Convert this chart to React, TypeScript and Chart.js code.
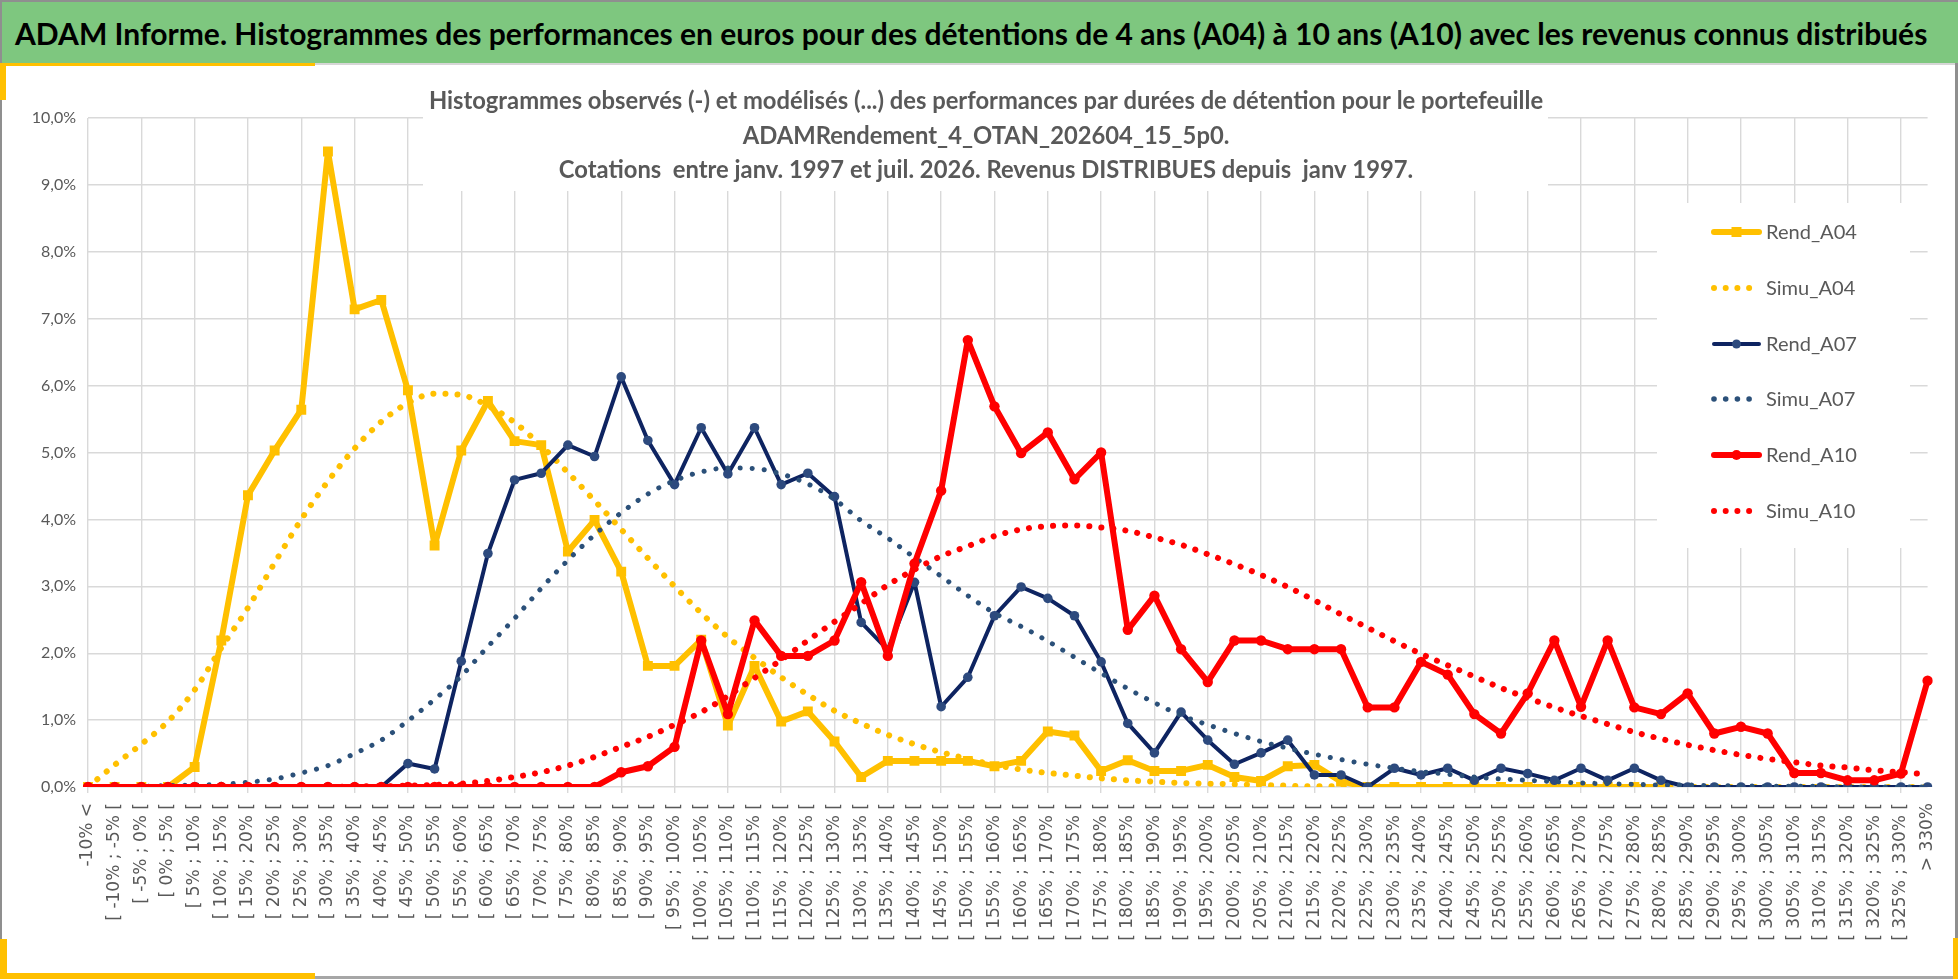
import React, { useEffect, useRef } from "react";
import { Chart, registerables } from "chart.js";

Chart.register(...registerables);

// ---------- data ----------
const categories: string[] = [
  "-10% <",
  "[ -10% ; -5% [", "[ -5% ; 0% [", "[ 0% ; 5% [", "[ 5% ; 10% [",
  "[ 10% ; 15% [", "[ 15% ; 20% [", "[ 20% ; 25% [", "[ 25% ; 30% [",
  "[ 30% ; 35% [", "[ 35% ; 40% [", "[ 40% ; 45% [", "[ 45% ; 50% [",
  "[ 50% ; 55% [", "[ 55% ; 60% [", "[ 60% ; 65% [", "[ 65% ; 70% [",
  "[ 70% ; 75% [", "[ 75% ; 80% [", "[ 80% ; 85% [", "[ 85% ; 90% [",
  "[ 90% ; 95% [", "[ 95% ; 100% [", "[ 100% ; 105% [", "[ 105% ; 110% [",
  "[ 110% ; 115% [", "[ 115% ; 120% [", "[ 120% ; 125% [", "[ 125% ; 130% [",
  "[ 130% ; 135% [", "[ 135% ; 140% [", "[ 140% ; 145% [", "[ 145% ; 150% [",
  "[ 150% ; 155% [", "[ 155% ; 160% [", "[ 160% ; 165% [", "[ 165% ; 170% [",
  "[ 170% ; 175% [", "[ 175% ; 180% [", "[ 180% ; 185% [", "[ 185% ; 190% [",
  "[ 190% ; 195% [", "[ 195% ; 200% [", "[ 200% ; 205% [", "[ 205% ; 210% [",
  "[ 210% ; 215% [", "[ 215% ; 220% [", "[ 220% ; 225% [", "[ 225% ; 230% [",
  "[ 230% ; 235% [", "[ 235% ; 240% [", "[ 240% ; 245% [", "[ 245% ; 250% [",
  "[ 250% ; 255% [", "[ 255% ; 260% [", "[ 260% ; 265% [", "[ 265% ; 270% [",
  "[ 270% ; 275% [", "[ 275% ; 280% [", "[ 280% ; 285% [", "[ 285% ; 290% [",
  "[ 290% ; 295% [", "[ 295% ; 300% [", "[ 300% ; 305% [", "[ 305% ; 310% [",
  "[ 310% ; 315% [", "[ 315% ; 320% [", "[ 320% ; 325% [", "[ 325% ; 330% [",
  "> 330%",
];

const rendA04: (number | null)[] = [
  0, 0, 0, 0, 0.30, 2.19, 4.36, 5.03, 5.64, 9.50,
  7.14, 7.28, 5.93, 3.61, 5.03, 5.77, 5.17, 5.11, 3.52, 3.99,
  3.22, 1.81, 1.81, 2.20, 0.92, 1.81, 0.98, 1.13, 0.68, 0.15,
  0.39, 0.39, 0.39, 0.39, 0.31, 0.39, 0.83, 0.77, 0.24, 0.40,
  0.24, 0.24, 0.33, 0.15, 0.09, 0.31, 0.33, 0.08, 0, 0,
  0, 0, 0, 0, 0, 0, 0, 0, 0, 0,
  null, null, null, null, null, null, null, null, null, null,
];

const simuA04: number[] = [
  0, 0.33, 0.64, 0.98, 1.45, 2.08, 2.68, 3.35, 4.0, 4.57,
  5.06, 5.46, 5.74, 5.88, 5.86, 5.70, 5.45, 5.10, 4.70, 4.28,
  3.85, 3.42, 3.0, 2.6, 2.24, 1.93, 1.64, 1.38, 1.14, 0.95,
  0.78, 0.64, 0.52, 0.42, 0.33, 0.26, 0.21, 0.17, 0.13, 0.10,
  0.08, 0.06, 0.05, 0.04, 0.03, 0.02, 0.01, 0.01, 0.01, 0,
  0, 0, 0, 0, 0, 0, 0, 0, 0, 0,
  0, 0, 0, 0, 0, 0, 0, 0, 0, 0,
];

const rendA07: number[] = [
  0, 0, 0, 0, 0, 0, 0, 0, 0, 0,
  0, 0, 0.35, 0.27, 1.88, 3.49, 4.59, 4.69, 5.11, 4.94,
  6.13, 5.18, 4.52, 5.37, 4.68, 5.37, 4.52, 4.69, 4.34, 2.46,
  2.05, 3.06, 1.20, 1.64, 2.56, 2.99, 2.82, 2.56, 1.87, 0.95,
  0.51, 1.12, 0.70, 0.34, 0.51, 0.70, 0.18, 0.18, 0, 0.28,
  0.18, 0.28, 0.10, 0.28, 0.20, 0.10, 0.28, 0.10, 0.28, 0.10,
  0, 0, 0, 0, 0, 0, 0, 0, 0, 0,
];

const simuA07: number[] = [
  0, 0, 0.01, 0.02, 0.03, 0.04, 0.07, 0.12, 0.21, 0.32,
  0.50, 0.70, 0.99, 1.31, 1.66, 2.10, 2.52, 2.97, 3.39, 3.77,
  4.10, 4.38, 4.58, 4.71, 4.77, 4.76, 4.68, 4.53, 4.30, 3.98,
  3.72, 3.43, 3.15, 2.86, 2.60, 2.40, 2.18, 1.94, 1.70, 1.47,
  1.26, 1.07, 0.93, 0.80, 0.68, 0.58, 0.49, 0.41, 0.34, 0.28,
  0.23, 0.19, 0.15, 0.12, 0.10, 0.08, 0.06, 0.05, 0.04, 0.03,
  0.03, 0.02, 0.02, 0.01, 0.01, 0.01, 0, 0, 0, 0,
];

const rendA10: number[] = [
  0, 0, 0, 0, 0, 0, 0, 0, 0, 0,
  0, 0, 0, 0, 0, 0, 0, 0, 0, 0,
  0.22, 0.31, 0.60, 2.19, 1.09, 2.49, 1.96, 1.96, 2.19, 3.06,
  1.96, 3.34, 4.43, 6.68, 5.69, 4.99, 5.30, 4.60, 5.00, 2.35,
  2.86, 2.06, 1.57, 2.19, 2.19, 2.06, 2.06, 2.06, 1.19, 1.19,
  1.87, 1.68, 1.09, 0.80, 1.40, 2.19, 1.20, 2.19, 1.19, 1.09,
  1.40, 0.80, 0.90, 0.80, 0.21, 0.21, 0.10, 0.10, 0.20, 1.59,
];

const simuA10: number[] = [
  0, 0, 0, 0, 0, 0, 0, 0, 0, 0,
  0.01, 0.01, 0.02, 0.03, 0.05, 0.09, 0.15, 0.22, 0.32, 0.45,
  0.60, 0.75, 0.93, 1.12, 1.36, 1.63, 1.90, 2.19, 2.47, 2.74,
  3.02, 3.25, 3.45, 3.60, 3.75, 3.85, 3.90, 3.91, 3.88, 3.83,
  3.73, 3.62, 3.48, 3.33, 3.17, 2.99, 2.79, 2.58, 2.38, 2.18,
  1.99, 1.82, 1.65, 1.48, 1.33, 1.19, 1.06, 0.94, 0.82, 0.72,
  0.63, 0.55, 0.48, 0.42, 0.37, 0.32, 0.29, 0.25, 0.22, 0.19,
];

const headerTitle =
  "ADAM Informe. Histogrammes des performances en euros pour des détentions de 4 ans (A04) à 10 ans (A10) avec les revenus connus distribués";
const chartTitleLines = [
  "Histogrammes observés (-) et modélisés (...) des performances par durées de détention pour le portefeuille",
  "ADAMRendement_4_OTAN_202604_15_5p0.",
  "Cotations  entre janv. 1997 et juil. 2026. Revenus DISTRIBUES depuis  janv 1997.",
];

// ---------- styles ----------
const YELLOW = "#FFC000";
const NAVY = "#0E2461";
const NAVY_MARK = "#2D4A7E";
const NAVY_DOT = "#2B5079";
const RED = "#FF0000";
const TXT = "#595959";
const GRID = "#D9D9D9";
const SANS = "Lato, 'Open Sans', sans-serif";

const W = 1958;
const H = 979;
const HEAD = 63;
const CH = H - HEAD;

function fitSize(text: string, family: string, weight: string, target: number): number {
  const c = document.createElement("canvas").getContext("2d");
  if (!c) return 20;
  c.font = `${weight} 100px ${family}`;
  const w = c.measureText(text).width;
  return (100 * target) / w;
}

type LegendItem = { label: string; color: string; markColor: string; kind: "rect" | "circle" | "dots"; width: number; r: number };
const legendItems: LegendItem[] = [
  { label: "Rend_A04", color: YELLOW, markColor: YELLOW, kind: "rect", width: 6, r: 5 },
  { label: "Simu_A04", color: YELLOW, markColor: YELLOW, kind: "dots", width: 6, r: 3 },
  { label: "Rend_A07", color: NAVY, markColor: NAVY_MARK, kind: "circle", width: 4, r: 4.5 },
  { label: "Simu_A07", color: NAVY_DOT, markColor: NAVY_DOT, kind: "dots", width: 5, r: 2.8 },
  { label: "Rend_A10", color: RED, markColor: RED, kind: "circle", width: 6, r: 5 },
  { label: "Simu_A10", color: RED, markColor: RED, kind: "dots", width: 6, r: 3 },
];

const overlayPlugin = {
  id: "overlay",
  beforeDatasetsDraw(chart: any) {
    const ctx: CanvasRenderingContext2D = chart.ctx;
    ctx.save();
    // title box
    ctx.fillStyle = "#ffffff";
    ctx.fillRect(423, 8, 1125, 120);
    const tSize = fitSize(chartTitleLines[0], SANS, "bold", 1115);
    ctx.font = `bold ${tSize}px ${SANS}`;
    ctx.fillStyle = TXT;
    ctx.textAlign = "center";
    ctx.textBaseline = "middle";
    const tY = [38, 73, 107];
    chartTitleLines.forEach((l, i) => ctx.fillText(l, 986, tY[i]));

    // legend box
    ctx.fillStyle = "#ffffff";
    ctx.fillRect(1657, 140, 253, 345);
    const lSize = fitSize("Rend_A04", SANS, "normal", 91);
    ctx.font = `${lSize}px ${SANS}`;
    ctx.textAlign = "left";
    const rows = [169, 225, 281, 336, 392, 448];
    legendItems.forEach((it, i) => {
      const y = rows[i];
      const x0 = 1712;
      const x1 = 1761;
      const xm = (x0 + x1) / 2;
      if (it.kind === "dots") {
        ctx.fillStyle = it.color;
        for (let k = 0; k < 4; k++) {
          ctx.beginPath();
          ctx.arc(1714 + k * 11.7, y, it.r, 0, Math.PI * 2);
          ctx.fill();
        }
      } else {
        ctx.strokeStyle = it.color;
        ctx.lineWidth = it.width;
        ctx.lineCap = "round";
        ctx.beginPath();
        ctx.moveTo(x0 + 2, y);
        ctx.lineTo(x1 - 2, y);
        ctx.stroke();
        ctx.fillStyle = it.markColor;
        if (it.kind === "rect") {
          ctx.fillRect(xm - it.r, y - it.r, it.r * 2, it.r * 2);
        } else {
          ctx.beginPath();
          ctx.arc(xm, y, it.r, 0, Math.PI * 2);
          ctx.fill();
        }
      }
      ctx.fillStyle = TXT;
      ctx.textBaseline = "middle";
      ctx.fillText(it.label, 1766, y + 1);
    });
    ctx.restore();
  },
};

export default function App() {
  const ref = useRef<HTMLCanvasElement>(null);

  useEffect(() => {
    document.body.style.margin = "0";
    const canvas = ref.current;
    if (!canvas) return;
    const dotted = {
      borderWidth: 6,
      borderDash: [0.1, 12],
      borderCapStyle: "round" as const,
      pointRadius: 0,
      cubicInterpolationMode: "monotone" as const,
      fill: false,
    };
    const chart = new Chart(canvas, {
      type: "line",
      data: {
        labels: categories,
        datasets: [
          {
            label: "Rend_A04",
            data: rendA04,
            borderColor: YELLOW,
            backgroundColor: YELLOW,
            borderWidth: 6,
            borderJoinStyle: "round",
            pointStyle: "rect",
            pointRadius: 7,
            pointBorderWidth: 0,
            pointBackgroundColor: YELLOW,
            spanGaps: false,
            order: 5,
          },
          { label: "Simu_A04", data: simuA04, borderColor: YELLOW, ...dotted, order: 4 },
          {
            label: "Rend_A07",
            data: rendA07,
            borderColor: NAVY,
            backgroundColor: NAVY_MARK,
            borderWidth: 4,
            borderJoinStyle: "round",
            pointStyle: "circle",
            pointRadius: 4.8,
            pointBorderWidth: 0,
            pointBackgroundColor: NAVY_MARK,
            order: 3,
          },
          { label: "Simu_A07", data: simuA07, borderColor: NAVY_DOT, ...dotted, borderWidth: 5, order: 2 },
          {
            label: "Rend_A10",
            data: rendA10,
            borderColor: RED,
            backgroundColor: RED,
            borderWidth: 6,
            borderJoinStyle: "round",
            pointStyle: "circle",
            pointRadius: 5.2,
            pointBorderWidth: 0,
            pointBackgroundColor: RED,
            order: 1,
          },
          { label: "Simu_A10", data: simuA10, borderColor: RED, ...dotted, order: 0 },
        ],
      },
      options: {
        responsive: false,
        animation: false,
        layout: { padding: { top: 55, right: 11, left: 0, bottom: 0 } },
        plugins: {
          legend: { display: false },
          title: { display: false },
          tooltip: { enabled: false },
        },
        scales: {
          x: {
            type: "category",
            offset: false,
            border: { display: false },
            grid: {
              color: (c: any) => (c.index % 2 === 0 ? GRID : "rgba(0,0,0,0)"),
              tickColor: (c: any) => (c.index % 2 === 0 ? GRID : "rgba(0,0,0,0)"),
              lineWidth: 1.4,
              drawTicks: true,
              tickLength: 6,
            },
            ticks: {
              autoSkip: false,
              maxRotation: 90,
              minRotation: 90,
              padding: 10,
              color: TXT,
              font: { family: "'DejaVu Sans', sans-serif", size: 17 },
            },
            afterFit: (s: any) => {
              s.height = 192;
            },
          },
          y: {
            min: 0,
            max: 10,
            border: { display: false },
            grid: { color: GRID, lineWidth: 1.4, drawTicks: false },
            ticks: {
              stepSize: 1,
              padding: 12,
              color: TXT,
              font: { family: SANS, size: 16 },
              callback: (v: any) => Number(v).toFixed(1).replace(".", ",") + "%",
            },
            afterFit: (s: any) => {
              s.width = 88;
            },
          },
        },
      },
      plugins: [overlayPlugin],
    } as any);
    return () => chart.destroy();
  }, []);

  const headSize = typeof document !== "undefined" ? fitSize(headerTitle, SANS, "bold", 1914) : 32;

  return (
    <div style={{ position: "relative", width: W, height: H, overflow: "hidden", background: "#fff" }}>
      <div
        style={{
          position: "absolute",
          left: 0,
          top: 0,
          width: W,
          height: HEAD,
          background: "#7EC77F",
          borderTop: "2px solid #8f8f8f",
          borderLeft: "2px solid #8f8f8f",
          boxSizing: "border-box",
          display: "flex",
          alignItems: "center",
          paddingLeft: 13,
          fontFamily: SANS,
          fontWeight: "bold",
          fontSize: headSize,
          color: "#000",
          whiteSpace: "nowrap",
        }}
      >
        {headerTitle}
      </div>
      <div style={{ position: "absolute", left: 0, top: HEAD, width: W, height: CH }}>
        <canvas ref={ref} width={W} height={CH} style={{ width: W, height: CH, display: "block" }} />
      </div>
      {/* frame */}
      <div style={{ position: "absolute", left: 0, top: HEAD, width: W, height: 2, background: "#D6D6D6" }} />
      <div style={{ position: "absolute", left: 0, top: HEAD, width: 315, height: 3, background: YELLOW }} />
      <div style={{ position: "absolute", left: 0, top: HEAD, width: 6, height: 37, background: YELLOW }} />
      <div style={{ position: "absolute", left: 0, top: HEAD + 37, width: 2, height: 840, background: "#8f8f8f" }} />
      <div style={{ position: "absolute", left: 0, top: 939, width: 7, height: 40, background: YELLOW }} />
      <div style={{ position: "absolute", left: 0, top: 973, width: 315, height: 6, background: YELLOW }} />
      <div style={{ position: "absolute", left: 315, top: 976, width: W - 315, height: 3, background: "#A6A6A6" }} />
      <div style={{ position: "absolute", left: W - 3, top: HEAD, width: 3, height: CH, background: "#8f8f8f" }} />
      <div style={{ position: "absolute", left: W - 5, top: 938, width: 5, height: 41, background: YELLOW }} />
    </div>
  );
}
